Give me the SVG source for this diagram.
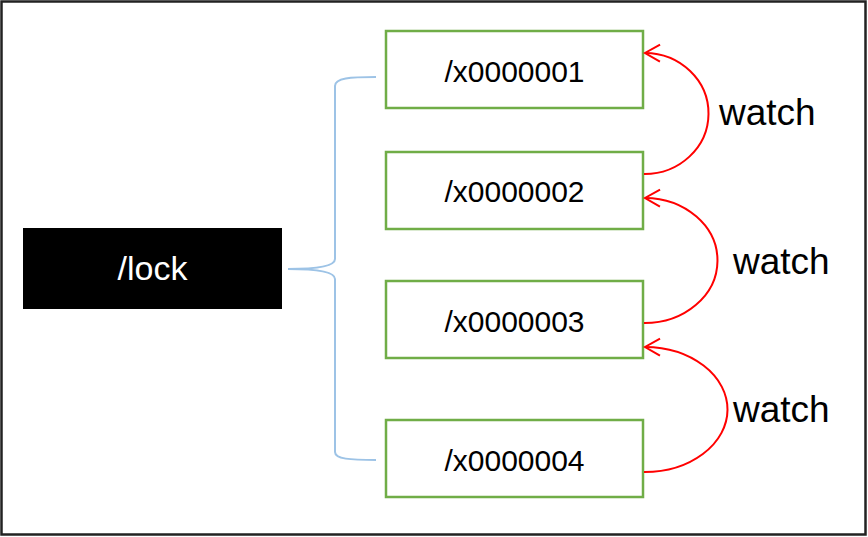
<svg xmlns="http://www.w3.org/2000/svg" width="868" height="537" viewBox="0 0 868 537">
<style>
.box{fill:#fff;stroke:#70ad47;stroke-width:2.5}
.t{font-family:"Liberation Sans",Arial,sans-serif;font-size:30px;fill:#000;text-anchor:middle}
.w{font-family:"Liberation Sans",Arial,sans-serif;font-size:37px;fill:#000}
.arc{fill:none;stroke:#ff0000;stroke-width:2;marker-end:url(#ah)}
</style>
<defs>
<marker id="ah" viewBox="0 0 20 20" refX="18" refY="10" markerWidth="20" markerHeight="20" markerUnits="userSpaceOnUse" orient="auto">
<path d="M3,1.5 L18,10 L3,18.5" fill="none" stroke="#ff0000" stroke-width="2"/>
</marker>
</defs>
<rect x="0" y="0" width="868" height="537" fill="#fff"/>
<rect x="1.5" y="1.5" width="864" height="533" fill="none" stroke="#222" stroke-width="2.5"/>
<g id="lock">
<rect x="23" y="228" width="259" height="81" fill="#000"/>
<text x="152.5" y="280" class="t" style="fill:#fff;font-size:34px">/lock</text>
</g>
<g id="n1"><rect class="box" x="386" y="31" width="257" height="77"/><text class="t" x="514.5" y="82">/x0000001</text></g>
<g id="n2"><rect class="box" x="386" y="152" width="257" height="77"/><text class="t" x="514.5" y="202">/x0000002</text></g>
<g id="n3"><rect class="box" x="386" y="281" width="257" height="77"/><text class="t" x="514.5" y="332">/x0000003</text></g>
<g id="n4"><rect class="box" x="386" y="420" width="257" height="77"/><text class="t" x="514.5" y="471">/x0000004</text></g>
<g id="connectors">
<path d="M376,77 C350,77 335,78 335,86 L335,259 C335,266 318,269 288,269 C318,269 335,272 335,279 L335,452 C335,459 350,460 376,460" fill="none" stroke="#9dc3e6" stroke-width="2"/>
<path class="arc" d="M644,174 A64,60.5 0 0 0 645,53"/>
<path class="arc" d="M644,323 A73,62.5 0 0 0 645,198"/>
<path class="arc" d="M644,472 A83,62.5 0 0 0 645,347"/>
<text class="w" x="719" y="125">watch</text>
<text class="w" x="733" y="274">watch</text>
<text class="w" x="733" y="422">watch</text>
</g>
</svg>
